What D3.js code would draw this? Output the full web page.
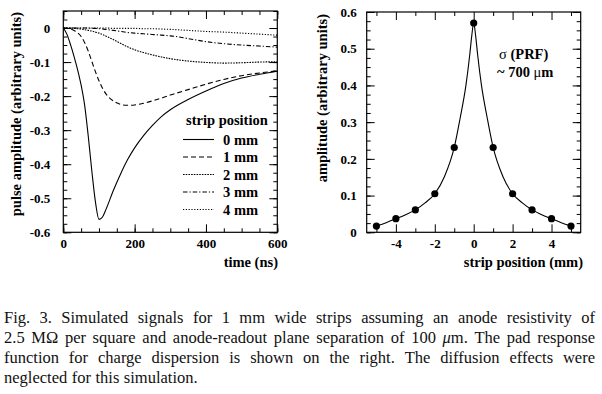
<!doctype html>
<html lang="en">
  <head>
    <meta charset="utf-8">
    <title>Pulse shapes and pad response function</title>
    <style>
      body { margin: 0; background: #fff; }
      svg { display: block; }
      svg text { font-family: "Liberation Serif", "DejaVu Serif", "Times New Roman", Times, serif; }
    </style>
  </head>
  <body>
    <script src="https://cdn.jsdelivr.net/npm/d3@7"></script>
    <script>

// left panel: simulated pulses, one series per strip position
var timeNs   = [0, 10, 20, 30, 40, 50, 60, 70, 80, 90, 100, 110, 120, 140, 160, 180, 200, 225, 250, 275, 300, 350, 400, 450, 500, 550, 600];
var pulse0mm = [0, -0.018, -0.048, -0.083, -0.122, -0.168, -0.228, -0.318, -0.42, -0.51, -0.562, -0.555, -0.532, -0.478, -0.43, -0.387, -0.352, -0.316, -0.286, -0.26, -0.24, -0.21, -0.185, -0.163, -0.147, -0.136, -0.127];
var pulse1mm = [0, -0.001, -0.003, -0.007, -0.014, -0.025, -0.043, -0.068, -0.098, -0.128, -0.155, -0.177, -0.194, -0.214, -0.224, -0.227, -0.226, -0.221, -0.214, -0.206, -0.197, -0.181, -0.165, -0.151, -0.14, -0.132, -0.126];
var pulse2mm = [0, 0, 0, -0.001, -0.002, -0.003, -0.005, -0.007, -0.009, -0.012, -0.015, -0.019, -0.024, -0.034, -0.045, -0.055, -0.064, -0.072, -0.079, -0.085, -0.09, -0.097, -0.101, -0.103, -0.102, -0.1, -0.099];
var pulse3mm = [0, 0, 0, 0, 0, 0, 0, 0, -0.001, -0.001, -0.002, -0.003, -0.004, -0.007, -0.01, -0.013, -0.015, -0.017, -0.019, -0.021, -0.023, -0.031, -0.04, -0.046, -0.05, -0.053, -0.056];
var pulse4mm = [0, 0, 0, 0, 0, 0, 0, 0, 0, 0, 0, 0, 0, -0.001, -0.001, -0.001, -0.001, -0.002, -0.002, -0.003, -0.004, -0.007, -0.01, -0.012, -0.015, -0.018, -0.021];
var stripLabels = ["0 mm", "1 mm", "2 mm", "3 mm", "4 mm"];
var pulseTicksX = [0, 200, 400, 600];
var pulseTicksY = [0, -0.1, -0.2, -0.3, -0.4, -0.5, -0.6];

// right panel: pad response function
var stripPos = [-5, -4, -3, -2, -1, 0, 1, 2, 3, 4, 5];
var prfAmp   = [0.017, 0.037, 0.061, 0.105, 0.231, 0.57, 0.231, 0.105, 0.061, 0.037, 0.017];
var prfCurvePos = [-5, -4.5, -4, -3.5, -3, -2.5, -2, -1.5, -1, -0.7, -0.4, -0.2, -0.1, 0, 0.1, 0.2, 0.4, 0.7, 1, 1.5, 2, 2.5, 3, 3.5, 4, 4.5, 5];
var prfCurveAmp = [0.017, 0.026, 0.037, 0.048, 0.061, 0.08, 0.105, 0.152, 0.231, 0.31, 0.4, 0.485, 0.535, 0.57, 0.535, 0.485, 0.4, 0.31, 0.231, 0.152, 0.105, 0.08, 0.061, 0.048, 0.037, 0.026, 0.017];
var prfTicksX = [-4, -2, 0, 2, 4];
var prfTicksY = [0, 0.1, 0.2, 0.3, 0.4, 0.5, 0.6];

var captionLines = [
  "Fig. 3.  Simulated signals for 1 mm wide strips assuming an anode resistivity of",
  "2.5 M\u03A9 per square and anode-readout plane separation of 100 \u03BCm. The pad response",
  "function for charge dispersion is shown on the right. The diffusion effects were",
  "neglected for this simulation."
];

var W = 602, H = 394;

var svg = d3.select("body")
    .append("svg")
    .attr("width", W)
    .attr("height", H);

svg.append("rect").attr("width", W).attr("height", H).attr("fill", "#fff");

function fmt(d) { return String(d); }

// axes on all four sides, ticks pointing inwards
function drawFrame(g, x, y, xMajor, xMinor, yMajor, yMinor, xPad, yPad) {
  var x0 = x.range()[0], x1 = x.range()[1];
  var yb = y.range()[0], yt = y.range()[1];

  var parts = [
    [d3.axisBottom(x).tickValues(xMinor).tickSize(-4).tickFormat(""), "translate(0," + yb + ")"],
    [d3.axisBottom(x).tickValues(xMajor).tickSize(-8).tickPadding(xPad).tickFormat(fmt), "translate(0," + yb + ")"],
    [d3.axisTop(x).tickValues(xMinor).tickSize(-4).tickFormat(""), "translate(0," + yt + ")"],
    [d3.axisTop(x).tickValues(xMajor).tickSize(-8).tickFormat(""), "translate(0," + yt + ")"],
    [d3.axisLeft(y).tickValues(yMinor).tickSize(-4).tickFormat(""), "translate(" + x0 + ",0)"],
    [d3.axisLeft(y).tickValues(yMajor).tickSize(-8).tickPadding(yPad).tickFormat(fmt), "translate(" + x0 + ",0)"],
    [d3.axisRight(y).tickValues(yMinor).tickSize(-4).tickFormat(""), "translate(" + x1 + ",0)"],
    [d3.axisRight(y).tickValues(yMajor).tickSize(-8).tickFormat(""), "translate(" + x1 + ",0)"]
  ];

  parts.forEach(function(p) {
    var a = g.append("g").attr("transform", p[1]).call(p[0]);
    a.select(".domain").remove();
    a.attr("font-family", null).attr("font-size", 13).attr("font-weight", "bold");
    a.selectAll("line").attr("stroke-width", 1);
  });

  g.append("rect")
    .attr("x", x0).attr("y", yt)
    .attr("width", x1 - x0).attr("height", yb - yt)
    .attr("fill", "none").attr("stroke", "#000").attr("stroke-width", 1.2);
}

function stepRange(a, b, s) {
  var n = Math.round((b - a) / s), out = [];
  for (var i = 0; i <= n; i++) out.push(a + i * s);
  return out;
}

// ---------- left panel ----------
var xT = d3.scaleLinear().domain([0, 600]).range([63.3, 277.3]);
var yP = d3.scaleLinear().domain([-0.6, 0.05]).range([232.3, 11]);

var left = svg.append("g");

var series = [pulse0mm, pulse1mm, pulse2mm, pulse3mm, pulse4mm];
var dashes = [null, "5,3", "1.6,1.1", "4.5,2,1.2,2", "1.2,1.6"];

var pulseLine = d3.line()
    .x(function(d){ return xT(d[0]); })
    .y(function(d){ return yP(d[1]); })
    .curve(d3.curveMonotoneX);

left.selectAll(".pulse")
    .data(series)
    .enter()
    .append("path")
    .attr("class", "pulse")
    .attr("d", function(s){ return pulseLine(timeNs.map(function(t, i){ return [t, s[i]]; })); })
    .attr("fill", "none")
    .attr("stroke", "#000")
    .attr("stroke-width", 1.1)
    .attr("stroke-dasharray", function(s, i){ return dashes[i]; });

drawFrame(left, xT, yP, pulseTicksX, stepRange(0, 600, 50),
          pulseTicksY, stepRange(-0.6, 0.05, 0.025), 6, 13);

// legend
var legend = left.append("g")
    .attr("font-weight", "bold")
    .attr("font-size", 14.5);

legend.append("text")
    .attr("x", 186).attr("y", 125)
    .text("strip position");

var entry = legend.selectAll(".entry")
    .data(stripLabels)
    .enter()
    .append("g")
    .attr("class", "entry")
    .attr("transform", function(d, i){ return "translate(0," + (139.5 + i * 17.5) + ")"; });

entry.append("line")
    .attr("x1", 183).attr("x2", 214)
    .attr("stroke", "#000").attr("stroke-width", 1.1)
    .attr("stroke-dasharray", function(d, i){ return dashes[i]; });

entry.append("text")
    .attr("x", 223).attr("y", 5)
    .text(function(d){ return d; });

left.append("text")
    .attr("transform", "translate(21,12) rotate(-90)")
    .attr("text-anchor", "end")
    .attr("font-weight", "bold").attr("font-size", 14.5)
    .text("pulse amplitude (arbitrary units)");

left.append("text")
    .attr("x", 278).attr("y", 267)
    .attr("text-anchor", "end")
    .attr("font-weight", "bold").attr("font-size", 14.5)
    .text("time (ns)");

// ---------- right panel ----------
var xS = d3.scaleLinear().domain([-5.5, 5.5]).range([366.7, 580.7]);
var yA = d3.scaleLinear().domain([0, 0.6]).range([232.3, 12]);

var right = svg.append("g");

var prfLine = d3.line()
    .x(function(d){ return xS(d[0]); })
    .y(function(d){ return yA(d[1]); })
    .curve(d3.curveMonotoneX);

right.append("path")
    .attr("d", prfLine(prfCurvePos.map(function(p, i){ return [p, prfCurveAmp[i]]; })))
    .attr("fill", "none")
    .attr("stroke", "#000")
    .attr("stroke-width", 1.1);

right.selectAll(".dot")
    .data(stripPos)
    .enter()
    .append("circle")
    .attr("class", "dot")
    .attr("cx", function(d){ return xS(d); })
    .attr("cy", function(d, i){ return yA(prfAmp[i]); })
    .attr("r", 3.6)
    .attr("fill", "#000");

drawFrame(right, xS, yA, prfTicksX, [-5, -3, -1, 1, 3, 5],
          prfTicksY, stepRange(0, 0.6, 0.025), 6, 10);

right.append("text")
    .attr("transform", "translate(327,14) rotate(-90)")
    .attr("text-anchor", "end")
    .attr("font-weight", "bold").attr("font-size", 14.5)
    .text("amplitude (arbitrary units)");

right.append("text")
    .attr("x", 583).attr("y", 267)
    .attr("text-anchor", "end")
    .attr("font-weight", "bold").attr("font-size", 14.5)
    .text("strip position (mm)");

var note = right.append("g")
    .attr("font-weight", "bold").attr("font-size", 14.5);

var n1 = note.append("text").attr("x", 499).attr("y", 59);
n1.append("tspan").attr("font-weight", "normal").text("\u03C3");
n1.append("tspan").text(" (PRF)");

var n2 = note.append("text").attr("x", 497).attr("y", 77);
n2.append("tspan").text("~ 700 ");
n2.append("tspan").attr("font-weight", "normal").text("\u03BC");
n2.append("tspan").text("m");

// ---------- caption, justified ----------
var cap = svg.append("g")
    .attr("font-size", 16.5)
    .attr("fill", "#111");

var capLeft = 4, capRight = 595;

captionLines.forEach(function(line, li) {
  var y = 323 + li * 20;
  var words = line.split(/ +/);
  var t = cap.append("text").attr("y", y);
  var spans = words.map(function(w){
    var s = t.append("tspan").text(w);
    if (w === "\u03BCm.") {
      s.text("");
      s.append("tspan").attr("font-style", "italic").text("\u03BC");
      s.append("tspan").text("m.");
    }
    return s;
  });
  var widths = spans.map(function(s){ return s.node().getComputedTextLength(); });
  var total = d3.sum(widths);
  var last = li === captionLines.length - 1;
  var gap = last ? 4.5 : (capRight - capLeft - total) / (words.length - 1);
  var x = capLeft;
  spans.forEach(function(s, i){
    s.attr("x", x);
    x += widths[i] + gap;
  });
});

    </script>
  </body>
</html>
